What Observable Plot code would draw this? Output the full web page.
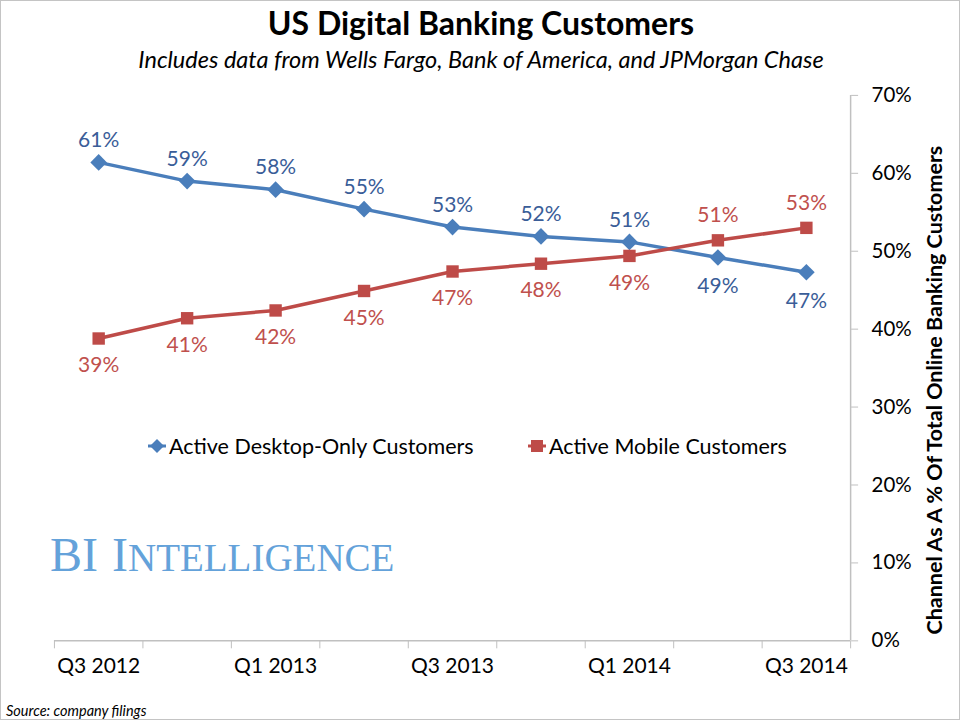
<!DOCTYPE html>
<html>
<head>
<meta charset="utf-8">
<script src="https://cdn.jsdelivr.net/npm/d3@7"></script>
<script src="https://cdn.jsdelivr.net/npm/@observablehq/plot@0.6"></script>
<style>
  html, body { margin: 0; padding: 0; background: #fff; }
  #wrap { position: relative; width: 958px; height: 718px; border: 1px solid #c4c4c4; overflow: hidden; font-family: Lato, "Open Sans", sans-serif; background:#fff; }
  #chart { position: absolute; left: -1px; top: -1px; }
  .ov { position: absolute; white-space: nowrap; }
  #title { left: 0; width: 960px; top: 2px; text-align: center; font-size: 32px; font-weight: bold; color: #000; }
  #subtitle { left: 0; width: 960px; top: 44px; text-align: center; font-size: 23.5px; font-style: italic; color: #000; }
  #source { left: 5px; top: 702px; font-size: 14.5px; font-style: italic; color: #000; line-height: 16px; }
  #bi { left: 49px; top: 526px; font-family: "Liberation Serif", serif; color: #64a2da; line-height: 56px; }
  #bi .big { font-size: 48px; }
  #bi .small { font-size: 39px; }
  #bi .gap { margin-left: 14px; }
  .leg { top: 432px; font-size: 21.5px; color: #000; display: flex; align-items: center; }
  .leg svg { margin-right: 2px; }
</style>
</head>
<body>
<div id="wrap">
  <div id="chart"></div>
  <div class="ov" id="title"></div>
  <div class="ov" id="subtitle"></div>
  <div class="ov leg" id="leg1"></div>
  <div class="ov leg" id="leg2"></div>
  <div class="ov" id="bi"></div>
  <div class="ov" id="source"></div>
</div>
<script>
const titleText = "US Digital Banking Customers";
const subtitleText = "Includes data from Wells Fargo, Bank of America, and JPMorgan Chase";
const yTitle = "Channel As A % Of Total Online Banking Customers";
const sourceText = "Source: company filings";
const brand = "BI Intelligence";

const quarters = ["Q3 2012","Q4 2012","Q1 2013","Q2 2013","Q3 2013","Q4 2013","Q1 2014","Q2 2014","Q3 2014"];
const seriesNames = ["Active Desktop-Only Customers", "Active Mobile Customers"];
const desktop = [61.4, 59.0, 57.9, 55.4, 53.1, 51.9, 51.2, 49.2, 47.3];
const mobile  = [38.8, 41.4, 42.4, 44.9, 47.4, 48.4, 49.4, 51.4, 53.0];
const yTicks = [0, 10, 20, 30, 40, 50, 60, 70];

const blueLine = "#4a7ebb", blueText = "#3a5d98";
const redLine = "#be4b48", redText = "#c0504d";

const rows = quarters.map((q, i) => ({i, q, desktop: desktop[i], mobile: mobile[i]}));
const fmt = v => Math.round(v) + "%";

const chart = Plot.plot({
  width: 960,
  height: 720,
  marginTop: 95,
  marginBottom: 79,
  marginLeft: 54,
  marginRight: 109,
  style: {fontFamily: "Lato, sans-serif", background: "transparent", color: "#000"},
  x: {type: "linear", domain: [-0.5, quarters.length - 0.5]},
  y: {domain: [0, 70]},
  marks: [
    Plot.ruleY([0], {stroke: "#c0c0c0", strokeWidth: 1.5}),
    Plot.ruleX([quarters.length - 0.5], {stroke: "#c0c0c0", strokeWidth: 1.5}),
    Plot.axisX({ticks: d3.range(quarters.length + 1).map(i => i - 0.5), tickSize: 8, tickFormat: () => "", stroke: "#c0c0c0", label: null}),
    Plot.axisX({ticks: d3.range(0, quarters.length, 2), tickSize: 0, tickPadding: 17, tickFormat: i => quarters[i], fontSize: 21, fill: "#000", label: null}),
    Plot.axisY({anchor: "right", ticks: yTicks, tickSize: 7, tickPadding: 14, tickFormat: d => d + "%", fontSize: 20.5, fill: "#000", stroke: "#c0c0c0", label: null}),
    Plot.text([yTitle], {frameAnchor: "right", textAnchor: "middle", dx: 85, dy: 22, rotate: -90, fontSize: 21.5, fontWeight: "bold", fill: "#000"}),
    Plot.line(rows, {x: "i", y: "desktop", stroke: blueLine, strokeWidth: 3.5}),
    Plot.line(rows, {x: "i", y: "mobile", stroke: redLine, strokeWidth: 3.5}),
    Plot.dot(rows, {x: "i", y: "desktop", symbol: "diamond2", r: 7.5, fill: blueLine, stroke: "none"}),
    Plot.dot(rows, {x: "i", y: "mobile", symbol: "square", r: 7, fill: redLine, stroke: "none"}),
    Plot.text(rows.filter(d => d.desktop >= d.mobile), {x: "i", y: "desktop", text: d => fmt(d.desktop), dy: -22, fontSize: 21, fill: blueText}),
    Plot.text(rows.filter(d => d.desktop < d.mobile), {x: "i", y: "desktop", text: d => fmt(d.desktop), dy: 29, fontSize: 21, fill: blueText}),
    Plot.text(rows.filter(d => d.mobile <= d.desktop), {x: "i", y: "mobile", text: d => fmt(d.mobile), dy: 27, fontSize: 21, fill: redText}),
    Plot.text(rows.filter(d => d.mobile > d.desktop), {x: "i", y: "mobile", text: d => fmt(d.mobile), dy: -25, fontSize: 21, fill: redText})
  ]
});
document.getElementById("chart").appendChild(chart);

document.getElementById("title").textContent = titleText;
document.getElementById("subtitle").textContent = subtitleText;
document.getElementById("source").textContent = sourceText;

// brand in small caps: first letter of each word large, the rest smaller capitals
const bi = document.getElementById("bi");
brand.split(" ").forEach((word, wi) => {
  const first = document.createElement("span");
  first.className = wi > 0 ? "big gap" : "big";
  const rest = document.createElement("span");
  if (word === word.toUpperCase()) {
    first.textContent = word;
  } else {
    first.textContent = word[0];
    rest.className = "small";
    rest.textContent = word.slice(1).toUpperCase();
  }
  bi.appendChild(first);
  bi.appendChild(rest);
});

function legendItem(id, left, name, color, shape) {
  const el = document.getElementById(id);
  el.style.left = left + "px";
  const marker = shape === "diamond"
    ? `<svg width="20" height="16"><line x1="1" y1="8" x2="19" y2="8" stroke="${color}" stroke-width="3"/><path d="M10 1 L17 8 L10 15 L3 8 Z" fill="${color}"/></svg>`
    : `<svg width="20" height="16"><line x1="1" y1="8" x2="19" y2="8" stroke="${color}" stroke-width="3"/><rect x="4" y="2" width="12" height="12" fill="${color}"/></svg>`;
  el.innerHTML = marker + `<span></span>`;
  el.querySelector("span").textContent = name;
}
legendItem("leg1", 146, seriesNames[0], blueLine, "diamond");
legendItem("leg2", 526, seriesNames[1], redLine, "square");
</script>
</body>
</html>
